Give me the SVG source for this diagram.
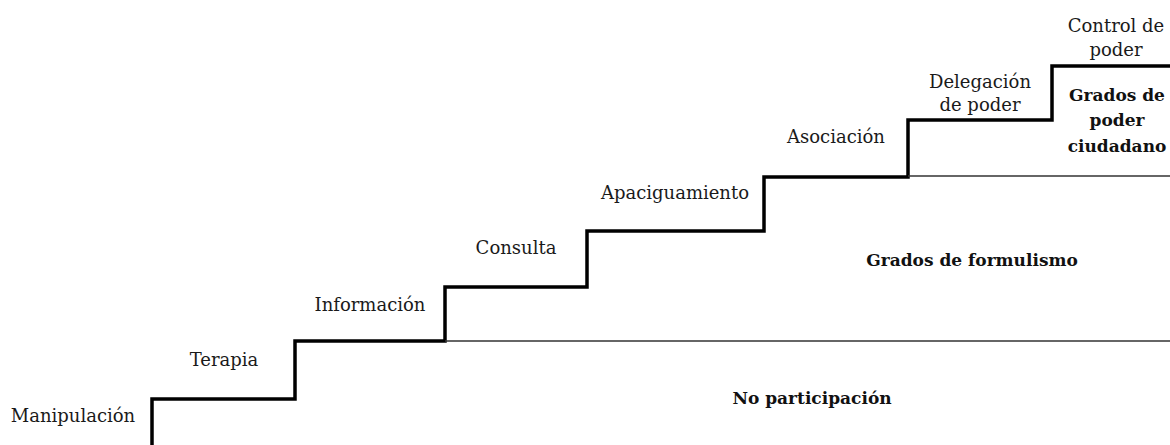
<svg xmlns="http://www.w3.org/2000/svg" width="1170" height="445" viewBox="0 0 1170 445">
<style>
.lbl{font-family:"DejaVu Serif","Liberation Serif",serif;font-size:18px;fill:#1a1a1a;text-anchor:middle}
.bold{font-family:"DejaVu Serif","Liberation Serif",serif;font-size:17px;font-weight:bold;fill:#111;text-anchor:middle}
.stair{fill:none;stroke:#000;stroke-width:3.5;stroke-linejoin:miter}
.div{fill:none;stroke:#333;stroke-width:1.6}
</style>
<rect width="1170" height="445" fill="#fff"/>
<g id="connectors">
<path class="stair" d="M152 445 V399 H295 V341 H445 V287 H587 V231 H764 V177 H908 V120 H1052 V66 H1170"/>
<path class="div" d="M445 341 H1170"/>
<path class="div" d="M908 176 H1170"/>
</g>
<g id="manipulacion"><text class="lbl" x="73" y="422">Manipulación</text></g>
<g id="terapia"><text class="lbl" x="224" y="366">Terapia</text></g>
<g id="informacion"><text class="lbl" x="370" y="311">Información</text></g>
<g id="consulta"><text class="lbl" x="516" y="254">Consulta</text></g>
<g id="apaciguamiento"><text class="lbl" x="675" y="199">Apaciguamiento</text></g>
<g id="asociacion"><text class="lbl" x="836" y="143">Asociación</text></g>
<g id="delegacion"><text class="lbl" x="980" y="88">Delegación</text><text class="lbl" x="980" y="111">de poder</text></g>
<g id="control"><text class="lbl" x="1116" y="32">Control de</text><text class="lbl" x="1116" y="56">poder</text></g>
<g id="poder-ciudadano"><text class="bold" x="1117" y="101">Grados de</text><text class="bold" x="1117" y="126">poder</text><text class="bold" x="1117" y="152">ciudadano</text></g>
<g id="formulismo"><text class="bold" x="972" y="266">Grados de formulismo</text></g>
<g id="no-participacion"><text class="bold" x="812" y="404">No participación</text></g>
</svg>
